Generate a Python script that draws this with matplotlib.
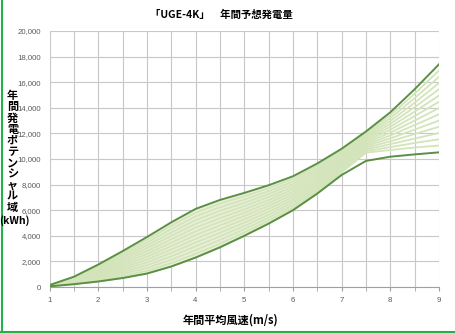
import numpy as np
import matplotlib
matplotlib.use("Agg")
import matplotlib.pyplot as plt
from matplotlib.lines import Line2D
from matplotlib.ticker import FuncFormatter, MultipleLocator

# ---- data ----
wind_speed = [1, 1.5, 2, 2.5, 3, 3.5, 4, 4.5, 5, 5.5, 6, 6.5, 7, 7.5, 8, 8.5, 9]
upper_curve = [150, 800, 1750, 2800, 3900, 5050, 6100, 6800, 7350, 7950, 8650,
               9650, 10800, 12150, 13650, 15450, 17400]
lower_curve = [50, 220, 430, 700, 1050, 1600, 2300, 3100, 4000, 4950, 6000,
               7300, 8750, 9850, 10180, 10360, 10520]
# light family of curves, one list of 13 values per wind speed (bottom to top)
light_at_speed = [
    [50, 58, 65, 73, 81, 88, 96, 104, 112, 119, 127, 135, 142],
    [220, 265, 309, 354, 398, 443, 488, 532, 577, 621, 666, 711, 755],
    [430, 532, 633, 735, 836, 938, 1039, 1141, 1242, 1344, 1445, 1547, 1648],
    [700, 862, 1023, 1185, 1346, 1508, 1669, 1831, 1992, 2154, 2315, 2477, 2638],
    [1050, 1269, 1488, 1708, 1927, 2146, 2365, 2585, 2804, 3023, 3242, 3462, 3681],
    [1600, 1865, 2131, 2396, 2662, 2927, 3192, 3458, 3723, 3988, 4254, 4519, 4785],
    [2300, 2592, 2885, 3177, 3469, 3762, 4054, 4346, 4638, 4931, 5223, 5515, 5808],
    [3100, 3385, 3669, 3954, 4238, 4523, 4808, 5092, 5377, 5662, 5946, 6231, 6515],
    [4000, 4258, 4515, 4773, 5031, 5288, 5546, 5804, 6062, 6319, 6577, 6835, 7092],
    [4950, 5181, 5412, 5642, 5873, 6104, 6335, 6565, 6796, 7027, 7258, 7488, 7719],
    [6000, 6204, 6408, 6612, 6815, 7019, 7223, 7427, 7631, 7835, 8038, 8242, 8446],
    [7300, 7481, 7662, 7842, 8023, 8204, 8385, 8565, 8746, 8927, 9108, 9288, 9469],
    [8950, 9092, 9235, 9377, 9519, 9662, 9804, 9946, 10088, 10231, 10373, 10515, 10658],
    [10500, 10627, 10754, 10881, 11008, 11135, 11262, 11388, 11515, 11642, 11769, 11896, 12023],
    [10700, 10927, 11154, 11381, 11608, 11835, 12062, 12288, 12515, 12742, 12969, 13196, 13423],
    [10900, 11250, 11600, 11950, 12300, 12650, 13000, 13350, 13700, 14050, 14400, 14750, 15100],
    [11050, 11538, 12027, 12515, 13004, 13492, 13981, 14469, 14958, 15446, 15935, 16423, 16912],
]
x_ticks = [1, 2, 3, 4, 5, 6, 7, 8, 9]
title_text = "「UGE-4K」\u3000年間予想発電量"
xlabel_text = "年間平均風速(m/s)"
ylabel_chars = "年間発電ポテンシャル域"
ylabel_unit = "(kWh)"

# ---- styling ----
CJK = ["Noto Sans CJK JP", "DejaVu Sans"]
DARK = "#5a8f44"
LIGHT = "#d3e4ba"
FILL = "#e8f0da"
GRID = "#c8c8c8"
TICKC = "#5a5a5a"

fig = plt.figure(figsize=(4.55, 3.33), dpi=100)
ax = fig.add_axes([49.5 / 455, 46 / 333, 389.5 / 455, 256 / 333])

xs = np.array(wind_speed)
ax.fill_between(xs, lower_curve, upper_curve, where=xs <= 7.0, color=FILL,
                lw=0, zorder=1)
light_lines = np.array(light_at_speed).T
for line in light_lines:
    ax.plot(wind_speed, line, color=LIGHT, lw=1.3, zorder=2)
ax.plot(wind_speed, upper_curve, color=DARK, lw=1.4, zorder=3)
ax.plot(wind_speed, lower_curve, color=DARK, lw=1.4, zorder=3)

ax.set_xlim(1, 9)
ax.set_ylim(0, 20000)
ax.set_xticks(x_ticks)
ax.xaxis.set_minor_locator(MultipleLocator(0.5))
ax.yaxis.set_major_locator(MultipleLocator(2000))
ax.yaxis.set_major_formatter(FuncFormatter(lambda v, p: f"{int(v):,}"))
ax.grid(True, which="both", axis="x", color=GRID, lw=0.8, zorder=0)
ax.grid(True, which="major", axis="y", color=GRID, lw=0.8, zorder=0)
ax.set_axisbelow(True)
for s in ["top", "right", "left"]:
    ax.spines[s].set_visible(False)
ax.spines["bottom"].set_color("#a0a0a0")
ax.spines["bottom"].set_linewidth(0.8)
ax.tick_params(axis="x", which="both", length=3, color="#a0a0a0", labelsize=5.6,
               labelcolor=TICKC, pad=4)
ax.tick_params(axis="y", length=0, labelsize=5.6, labelcolor=TICKC, pad=6)
for lbl in ax.get_xticklabels() + ax.get_yticklabels():
    lbl.set_fontfamily("Liberation Sans")

fig.text(221 / 455, 1 - 15 / 333, title_text, ha="center", va="center",
         fontsize=7.5, fontweight="bold", family=CJK)
fig.text(230.5 / 455, 1 - 320.5 / 333, xlabel_text, ha="center", va="center",
         fontsize=8, fontweight="bold", family=CJK)
fig.text(12.5 / 455, 1 - 89 / 333, "\n".join(ylabel_chars), ha="center",
         va="top", fontsize=8, fontweight="bold", family=CJK, linespacing=0.82)
fig.text(14 / 455, 1 - 221 / 333, ylabel_unit, ha="center", va="center",
         fontsize=7.5, fontweight="bold", family=CJK)

# green frame lines (left and bottom)
fig.add_artist(Line2D([1.5 / 455, 1.5 / 455], [0, 1], color="#22b14c", lw=1.5,
                      transform=fig.transFigure))
fig.add_artist(Line2D([0, 1], [1.5 / 333, 1.5 / 333], color="#22b14c", lw=1.5,
                      transform=fig.transFigure))

fig.savefig("out.png", dpi=100)
